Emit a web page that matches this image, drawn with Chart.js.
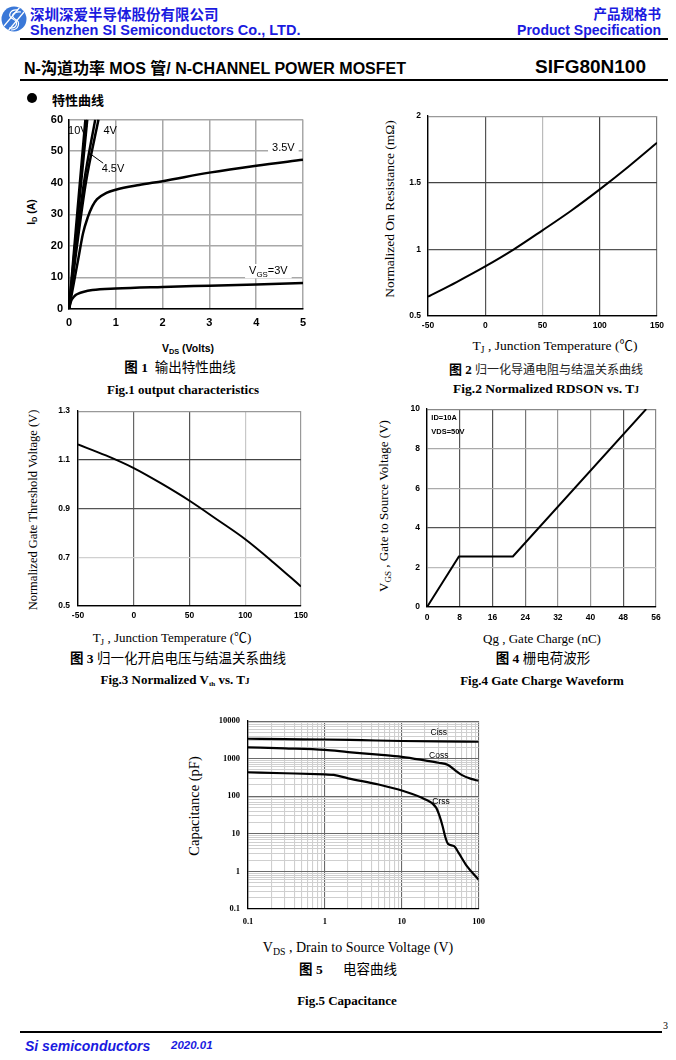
<!DOCTYPE html>
<html>
<head>
<meta charset="utf-8">
<script src="https://cdn.jsdelivr.net/npm/chart.js@4.4.0/dist/chart.umd.min.js"></script>
<style>
  body { margin: 0; background: #fff; }
  #page { position: relative; width: 676px; height: 1060px; overflow: hidden; color: #000;
          font-family: "Liberation Sans", Arial, sans-serif; }
  .abs { position: absolute; white-space: nowrap; line-height: 1; }
  .c { transform: translate(-50%, -50%); }
  .rot { transform: translate(-50%, -50%) rotate(-90deg); }
  .serif { font-family: "Liberation Serif", "Times New Roman", "Noto Sans CJK SC", serif; }
  .blue { color: #1a1ae0; }
  .sb { font-size: 70%; position: relative; top: 0.3em; }
  .rule { position: absolute; background: #000; }
  .box { position: absolute; }
  .cn { font-family: "Liberation Serif", "Noto Sans CJK SC", serif; }
</style>
</head>
<body>
<div id="page">
  <!-- header -->
  <svg style="position:absolute;left:1px;top:6px" width="26" height="26" viewBox="0 0 26 26">
    <defs><clipPath id="lc"><circle cx="13" cy="13" r="12.5"/></clipPath></defs>
    <circle cx="13" cy="13" r="12.5" fill="#3a78d8"/>
    <g clip-path="url(#lc)" stroke="#fff" stroke-width="1.2" fill="none">
      <path d="M17 4 C 9 3, 6 10, 12 13 C 18 16, 16 23, 8 22"/>
      <path d="M20 6 C 12 5, 9 10, 14 13 C 20 16, 18 24, 10 24"/>
      <path d="M3 20 L 19 1"/>
      <path d="M7 25 L 23 6"/>
    </g>
  </svg>
  <div class="abs blue" style="left:30px;top:3px;font:bold 14.5px 'Noto Sans CJK SC',sans-serif">深圳深爱半导体股份有限公司</div>
  <div class="abs blue" style="left:30px;top:23px;font-weight:bold;font-size:14.5px">Shenzhen SI Semiconductors Co., LTD.</div>
  <div class="abs blue" style="right:15px;top:3px;font:bold 13.5px 'Noto Sans CJK SC',sans-serif">产品规格书</div>
  <div class="abs blue" style="right:15px;top:23px;font-weight:bold;font-size:14px">Product Specification</div>
  <div class="rule" style="left:20px;top:38px;width:648px;height:2px"></div>

  <div class="abs" style="left:24px;top:59px;font-weight:bold;font-size:16px">N-<span style="font-family:'Noto Sans CJK SC'">沟道功率</span> MOS <span style="font-family:'Noto Sans CJK SC'">管</span>/ N-CHANNEL POWER MOSFET</div>
  <div class="abs" style="right:30px;top:57px;font-weight:bold;font-size:19px">SIFG80N100</div>
  <div class="rule" style="left:20px;top:79px;width:648px;height:2px"></div>

  <div style="position:absolute;left:27px;top:93px;width:10px;height:10px;border-radius:50%;background:#000"></div>
  <div class="abs" style="left:52px;top:90px;font:bold 13px 'Noto Sans CJK SC',sans-serif">特性曲线</div>

  <!-- fig 1 texts -->
  <div class="abs rot" style="left:31px;top:212px;font-weight:bold;font-size:10.5px">I<span class="sb">D</span> (A)</div>
  <div class="abs c" style="left:188px;top:348px;font-weight:bold;font-size:10.5px">V<span class="sb">DS</span> (Volts)</div>
  <div class="abs c cn" style="left:180px;top:368px;font-size:13.5px"><b>图 1</b>&nbsp; 输出特性曲线</div>
  <div class="abs c serif" style="left:183px;top:389px;font-weight:bold;font-size:13px">Fig.1 output characteristics</div>

  <!-- fig 2 texts -->
  <div class="abs rot serif" style="left:390px;top:209px;font-size:13.5px">Normalized On Resistance (mΩ)</div>
  <div class="abs c serif" style="left:555px;top:346px;font-size:13.5px">T<span class="sb">J</span> , Junction Temperature (℃)</div>
  <div class="abs c cn" style="left:546px;top:369px;font-size:12px;color:#222"><b style="color:#000;font-size:13px">图 2</b> 归一化导通电阻与结温关系曲线</div>
  <div class="abs c serif" style="left:546px;top:389px;font-weight:bold;font-size:13.5px">Fig.2 Normalized RDSON vs. T<span style="font-size:70%">J</span></div>

  <!-- fig 3 texts -->
  <div class="abs rot serif" style="left:33px;top:510px;font-size:12.5px">Normalized Gate Threshold Voltage (V)</div>
  <div class="abs c serif" style="left:172px;top:638px;font-size:13px">T<span class="sb">J</span> , Junction Temperature (℃)</div>
  <div class="abs c cn" style="left:178px;top:659px;font-size:13.5px"><b>图 3</b> 归一化开启电压与结温关系曲线</div>
  <div class="abs c serif" style="left:175px;top:680px;font-weight:bold;font-size:13px">Fig.3 Normalized V<span class="sb" style="font-size:55%">th</span> vs. T<span style="font-size:70%">J</span></div>

  <!-- fig 4 texts -->
  <div class="abs rot serif" style="left:384px;top:506px;font-size:13px">V<span class="sb">GS</span> , Gate to Source Voltage (V)</div>
  <div class="abs c serif" style="left:542px;top:638px;font-size:13px">Qg , Gate Charge (nC)</div>
  <div class="abs c cn" style="left:543px;top:659px;font-size:13.5px"><b>图 4</b> 栅电荷波形</div>
  <div class="abs c serif" style="left:542px;top:680px;font-weight:bold;font-size:13px">Fig.4 Gate Charge Waveform</div>

  <!-- fig 5 texts -->
  <div class="abs rot serif" style="left:194px;top:806px;font-size:14.5px">Capacitance (pF)</div>
  <div class="abs c serif" style="left:358px;top:948px;font-size:14px">V<span class="sb">DS</span> , Drain to Source Voltage (V)</div>
  <div class="abs c cn" style="left:348px;top:970px;font-size:13.5px"><b>图 5</b>&nbsp;&nbsp;&nbsp;&nbsp;&nbsp; 电容曲线</div>
  <div class="abs c serif" style="left:347px;top:1000px;font-weight:bold;font-size:13px">Fig.5 Capacitance</div>

  <!-- footer -->
  <div class="rule" style="left:20px;top:1031px;width:642px;height:1.5px"></div>
  <div class="abs serif" style="left:663px;top:1021px;font-size:10px">3</div>
  <div class="abs blue" style="left:25px;top:1039px;font-weight:bold;font-style:italic;font-size:14px">Si semiconductors</div>
  <div class="abs blue" style="left:171px;top:1040px;font-weight:bold;font-style:italic;font-size:11.5px">2020.01</div>
</div>

<script>
// Fig.1 output characteristics: VDS (V) -> ID (A) for each VGS
const vds3V = [0, 0.03, 0.06, 0.1, 0.15, 0.2, 0.3, 0.5, 1, 2, 3, 4, 5];
const id3V = [0, 1.8, 3.0, 3.8, 4.5, 4.9, 5.4, 6.0, 6.5, 7.0, 7.4, 7.8, 8.2];
const vds35V = [0, 0.1, 0.2, 0.3, 0.4, 0.5, 0.6, 0.8, 1, 1.5, 2, 3, 4, 5];
const id35V = [0, 8, 16, 24, 29, 32.6, 34.8, 36.8, 37.8, 39.3, 40.5, 43.2, 45.4, 47.3];
const vds4V = [0, 0.17, 0.36, 0.63];
const id4V = [0, 20, 40, 60];
const vds45V = [0, 0.15, 0.32, 0.56];
const id45V = [0, 20, 40, 60];
const vdsMid = [0, 0.2, 0.39];   // unlabelled curve next to 10V
const idMid = [0, 31, 60];
const vds10V = [0, 0.18, 0.35];
const id10V = [0, 31, 60];
const fig1XTicks = [0, 1, 2, 3, 4, 5];
const fig1YTicks = [0, 10, 20, 30, 40, 50, 60];

// Fig.2 / Fig.3 vs junction temperature
const tj = [-50, -25, 0, 25, 50, 75, 100, 125, 150];
const rdsNorm = [0.645, 0.755, 0.872, 1.0, 1.143, 1.29, 1.45, 1.62, 1.8];
const vthNorm = [1.163, 1.118, 1.066, 1.002, 0.932, 0.854, 0.774, 0.68, 0.58];
const tjTicks = [-50, 0, 50, 100, 150];
const rdsTicks = [0.5, 1, 1.5, 2];
const vthTicks = [0.5, 0.7, 0.9, 1.1, 1.3];

// Fig.4 gate charge
const qg = [0, 7.8, 21, 53.6];
const vgs = [0, 2.55, 2.55, 10];
const qgTicks = [0, 8, 16, 24, 32, 40, 48, 56];
const vgsTicks = [0, 2, 4, 6, 8, 10];

// Fig.5 capacitance vs VDS
const vdsCiss = [0.1, 0.3, 1, 3, 10, 30, 100];
const ciss = [3390, 3300, 3240, 3100, 2950, 2870, 2820];
const vdsCoss = [0.1, 0.3, 1, 2, 5, 10, 20, 30, 40, 50, 60, 80, 100];
const coss = [2000, 1880, 1710, 1500, 1280, 1120, 900, 780, 680, 480, 370, 290, 258];
const vdsCrss = [0.1, 0.3, 1, 1.3, 2, 5, 10, 20, 28, 31, 34, 37, 40, 48, 55, 70, 100];
const crss = [436, 410, 380, 370, 300, 205, 142, 83, 50, 30, 16, 8, 5.4, 4.7, 3.1, 1.4, 0.6];
const capXDecades = [0.1, 1, 10, 100];
const capYDecades = [0.1, 1, 10, 100, 1000, 10000];

function logTicks(decades) {
  const out = [];
  decades.forEach((d, i) => {
    if (i === decades.length - 1) { out.push(d); return; }
    for (let k = 1; k < 10; k++) out.push(+(d * k).toPrecision(3));
  });
  return out;
}
const isDecade = v => Math.abs(Math.log10(v) - Math.round(Math.log10(v))) < 1e-6;

function series(xs, ys, width, smooth) {
  return {
    data: xs.map((v, i) => ({ x: v, y: ys[i] })),
    borderColor: "#000",
    borderWidth: width,
    pointRadius: 0,
    showLine: true,
    fill: false,
    tension: 0,
    cubicInterpolationMode: smooth ? "monotone" : "default",
  };
}

// text notes drawn at data coordinates, parts = [[text, isSub], ...]
function notesPlugin(notes) {
  return {
    id: "notes",
    afterDatasetsDraw(chart) {
      const { ctx, scales: { x, y } } = chart;
      ctx.save();
      notes.forEach((n) => {
        if (n.line) {
          ctx.beginPath();
          ctx.moveTo(x.getPixelForValue(n.line[0]), y.getPixelForValue(n.line[1]));
          ctx.lineTo(x.getPixelForValue(n.line[2]), y.getPixelForValue(n.line[3]));
          ctx.lineWidth = 1;
          ctx.strokeStyle = "#000";
          ctx.stroke();
          return;
        }
        const px = x.getPixelForValue(n.x);
        const py = y.getPixelForValue(n.y);
        const fam = n.family || "'Liberation Sans', Arial, sans-serif";
        const wt = n.weight || "normal";
        const fontOf = (sub) => `${wt} ${sub ? n.size * 0.72 : n.size}px ${fam}`;
        const widths = n.parts.map((p) => { ctx.font = fontOf(p[1]); return ctx.measureText(p[0]).width; });
        const total = widths.reduce((a, b) => a + b, 0);
        let sx = n.align === "left" ? px : px - total / 2;
        if (n.bg) {
          ctx.fillStyle = "#fff";
          ctx.fillRect(sx - 4, py - n.size * 0.65, total + 8, n.size * 1.3);
        }
        ctx.fillStyle = "#000";
        ctx.textAlign = "left";
        ctx.textBaseline = "middle";
        n.parts.forEach((p, i) => {
          ctx.font = fontOf(p[1]);
          ctx.fillText(p[0], sx, p[1] ? py + n.size * 0.3 : py);
          sx += widths[i];
        });
      });
      ctx.restore();
    },
  };
}

function axis(type, ticks, opt) {
  return {
    type: type,
    min: ticks[0],
    max: ticks[ticks.length - 1],
    afterBuildTicks: (s) => { s.ticks = ticks.map((v) => ({ value: v })); },
    border: { display: true, color: "#000", width: opt.borderWidth || 1.3 },
    grid: { color: opt.gridColor, lineWidth: opt.gridWidth || 1, drawTicks: false },
    ticks: {
      autoSkip: false,
      maxRotation: 0,
      padding: opt.pad,
      color: "#000",
      font: opt.font,
      callback: opt.label || ((v) => String(v)),
    },
  };
}

function mount(id, plot, m, datasets, scales, notes) {
  const box = document.createElement("div");
  box.className = "box";
  box.style.left = plot.l - m.yw + "px";
  box.style.top = plot.t - m.pt + "px";
  box.style.width = plot.r - plot.l + m.yw + m.pr + "px";
  box.style.height = plot.b - plot.t + m.pt + m.xh + "px";
  const cv = document.createElement("canvas");
  cv.id = id;
  box.appendChild(cv);
  document.getElementById("page").appendChild(box);
  scales.x.afterFit = (s) => { s.height = m.xh; };
  scales.y.afterFit = (s) => { s.width = m.yw; };
  return new Chart(cv, {
    type: "scatter",
    data: { datasets: datasets },
    options: {
      responsive: true,
      maintainAspectRatio: false,
      animation: false,
      layout: { padding: { top: m.pt, right: m.pr, left: 0, bottom: 0 } },
      plugins: { legend: { display: false }, tooltip: { enabled: false } },
      scales: scales,
    },
    plugins: [notesPlugin(notes || [])],
  });
}

const byValue = (map, def) => (c) => (c.tick && map[c.tick.value] !== undefined ? map[c.tick.value] : def);
const sansBold = (size) => ({ family: "'Liberation Sans', Arial, sans-serif", size: size, weight: "bold" });

// ---- Fig.1 ----
mount("fig1", { l: 69, t: 117, r: 303, b: 309 }, { yw: 45, xh: 30, pt: 10, pr: 12 },
  [
    series(vds10V, id10V, 2.5, false),
    series(vdsMid, idMid, 2.5, false),
    series(vds45V, id45V, 2.5, true),
    series(vds4V, id4V, 2.5, true),
    series(vds35V, id35V, 2.5, true),
    series(vds3V, id3V, 2.5, true),
  ],
  {
    x: axis("linear", fig1XTicks, { gridColor: "#a8a8a8", gridWidth: 1.5, pad: 7, font: sansBold(11), borderWidth: 1.5 }),
    y: axis("linear", fig1YTicks, { gridColor: "#a8a8a8", gridWidth: 1.5, pad: 6, font: sansBold(11), borderWidth: 1.5 }),
  },
  [
    { x: 0.19, y: 56.5, size: 11, parts: [["10V"]] },
    { x: 0.88, y: 56.5, size: 11, parts: [["4V"]] },
    { x: 4.58, y: 51, size: 11, bg: true, parts: [["3.5V"]] },
    { line: [0.45, 49.2, 0.73, 46.2] },
    { x: 0.94, y: 44.5, size: 11, parts: [["4.5V"]] },
    { x: 4.26, y: 12, size: 11, bg: true, parts: [["V"], ["GS", true], ["=3V"]] },
  ]);

// ---- Fig.2 ----
mount("fig2", { l: 428, t: 114, r: 657, b: 316 }, { yw: 40, xh: 22, pt: 10, pr: 14 },
  [series(tj, rdsNorm, 2, true)],
  {
    x: axis("linear", tjTicks, { gridColor: byValue({ 0: "#555", 50: "#bbb", 100: "#444", 150: "#777" }, "#000"), gridWidth: 1.2, pad: 5, font: sansBold(8.5) }),
    y: axis("linear", rdsTicks, { gridColor: byValue({ 1: "#555", 1.5: "#444", 2: "#999" }, "#000"), gridWidth: 1.2, pad: 7, font: sansBold(8.5) }),
  });

// ---- Fig.3 ----
mount("fig3", { l: 78, t: 408, r: 301, b: 606 }, { yw: 40, xh: 22, pt: 10, pr: 14 },
  [series(tj, vthNorm, 2, true)],
  {
    x: axis("linear", tjTicks, { gridColor: byValue({ 0: "#666", 50: "#555", 100: "#c8c8c8", 150: "#999" }, "#000"), gridWidth: 1.2, pad: 5, font: sansBold(8.5) }),
    y: axis("linear", vthTicks, { gridColor: byValue({ 0.7: "#d0d0d0", 0.9: "#555", 1.1: "#444", 1.3: "#999" }, "#000"), gridWidth: 1.2, pad: 8, font: sansBold(8.5) }),
  });

// ---- Fig.4 ----
mount("fig4", { l: 427, t: 407, r: 656, b: 607 }, { yw: 40, xh: 22, pt: 10, pr: 14 },
  [series(qg, vgs, 2, false)],
  {
    x: axis("linear", qgTicks, { gridColor: byValue({ 8: "#555", 16: "#555", 24: "#777", 32: "#999", 40: "#999", 48: "#555", 56: "#888" }, "#000"), gridWidth: 1.2, pad: 6, font: sansBold(8.5) }),
    y: axis("linear", vgsTicks, { gridColor: byValue({ 2: "#bbb", 4: "#555", 6: "#aaa", 8: "#aaa", 10: "#888" }, "#000"), gridWidth: 1.2, pad: 7, font: sansBold(8.5) }),
  },
  [
    { x: 1.05, y: 9.54, size: 7.5, weight: "bold", align: "left", parts: [["ID=10A"]] },
    { x: 1.05, y: 8.84, size: 7.5, weight: "bold", align: "left", parts: [["VDS=50V"]] },
  ]);

// ---- Fig.5 ----
const serifBold = { family: "'Liberation Serif', 'Times New Roman', serif", size: 8.5, weight: "bold" };
const logGrid = (c) => (c.tick && isDecade(c.tick.value) ? "#6a6a6a" : "#cfcfcf");
const decadeLabel = (v) => (isDecade(v) ? String(v) : "");
mount("fig5", { l: 248, t: 718, r: 479, b: 909 }, { yw: 45, xh: 26, pt: 10, pr: 14 },
  [
    series(vdsCiss, ciss, 2.2, true),
    series(vdsCoss, coss, 2.2, true),
    series(vdsCrss, crss, 2.2, true),
  ],
  {
    x: axis("logarithmic", logTicks(capXDecades), { gridColor: logGrid, gridWidth: 1.1, pad: 8, font: serifBold, label: decadeLabel }),
    y: axis("logarithmic", logTicks(capYDecades), { gridColor: logGrid, gridWidth: 1.1, pad: 8, font: serifBold, label: decadeLabel }),
  },
  [
    { x: 30.3, y: 5070, size: 8.5, parts: [["Ciss"]] },
    { x: 30.3, y: 1175, size: 8.5, parts: [["Coss"]] },
    { x: 32.5, y: 70, size: 8.5, parts: [["Crss"]] },
  ]);
</script>
</body>
</html>
